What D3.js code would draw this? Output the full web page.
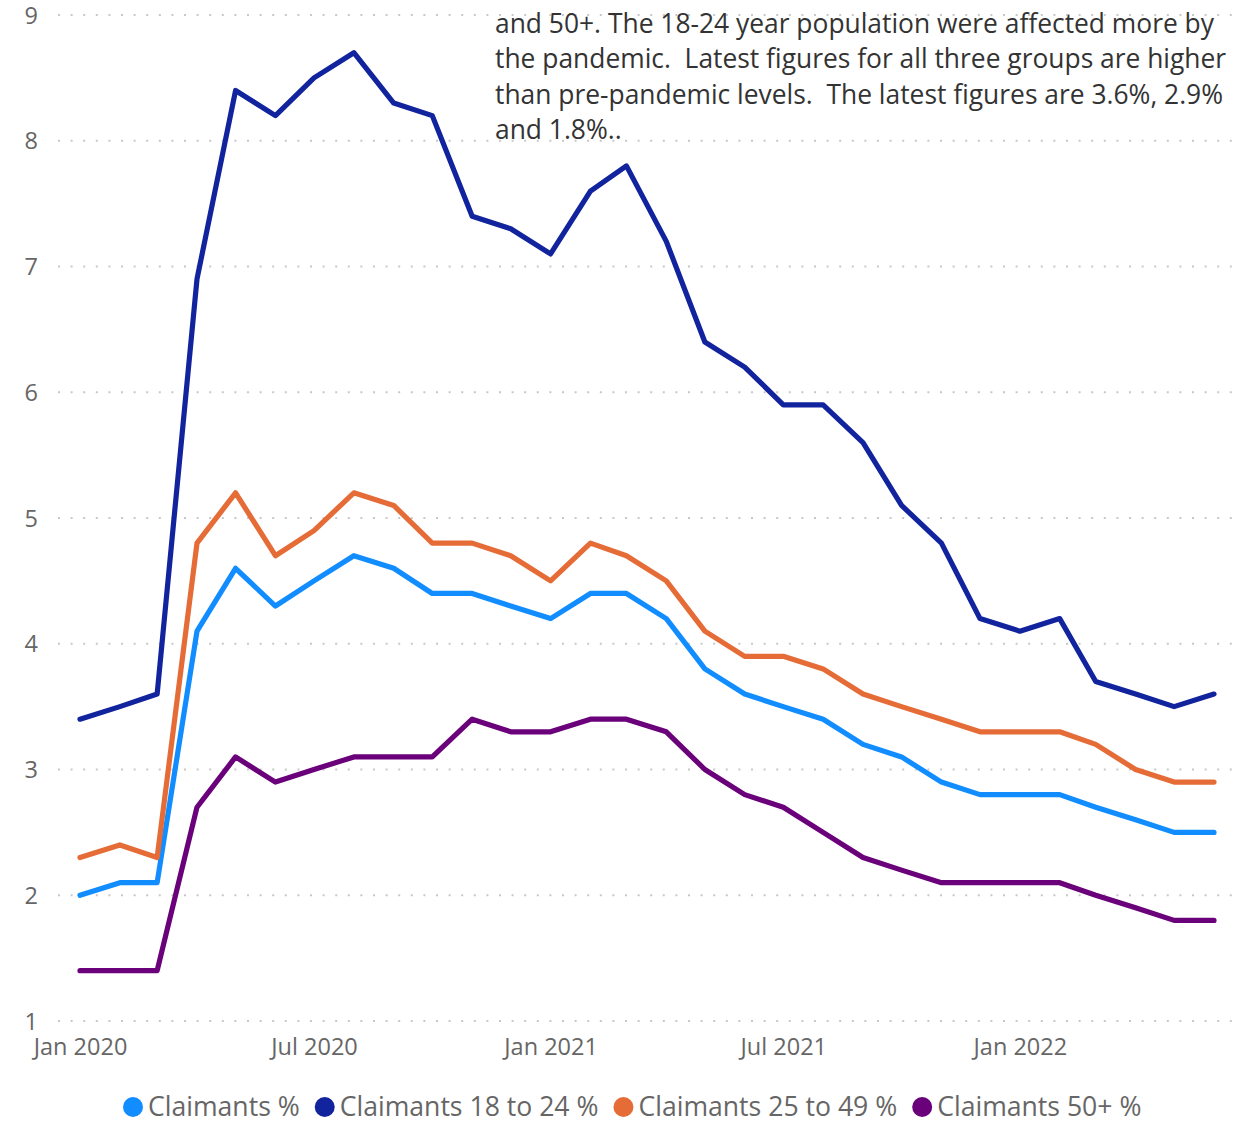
<!DOCTYPE html>
<html>
<head>
<meta charset="utf-8">
<script src="https://cdn.jsdelivr.net/npm/d3@7"></script>
<style>
  html, body { margin: 0; padding: 0; background: #fff; }
  svg { display: block; font-family: "Segoe UI", "Open Sans", "Noto Sans", sans-serif; }
</style>
</head>
<body>
<svg id="chart" width="1239" height="1123"></svg>
<script>
// Monthly claimant rates, Jan 2020 – Jun 2022
const months = d3.timeMonths(new Date(2020, 0, 1), new Date(2022, 6, 1));

const claimantsAll = [2.0, 2.1, 2.1, 4.1, 4.6, 4.3, 4.5, 4.7, 4.6, 4.4, 4.4, 4.3, 4.2, 4.4, 4.4,
                      4.2, 3.8, 3.6, 3.5, 3.4, 3.2, 3.1, 2.9, 2.8, 2.8, 2.8, 2.7, 2.6, 2.5, 2.5];
const claimants18to24 = [3.4, 3.5, 3.6, 6.9, 8.4, 8.2, 8.5, 8.7, 8.3, 8.2, 7.4, 7.3, 7.1, 7.6, 7.8,
                         7.2, 6.4, 6.2, 5.9, 5.9, 5.6, 5.1, 4.8, 4.2, 4.1, 4.2, 3.7, 3.6, 3.5, 3.6];
const claimants25to49 = [2.3, 2.4, 2.3, 4.8, 5.2, 4.7, 4.9, 5.2, 5.1, 4.8, 4.8, 4.7, 4.5, 4.8, 4.7,
                         4.5, 4.1, 3.9, 3.9, 3.8, 3.6, 3.5, 3.4, 3.3, 3.3, 3.3, 3.2, 3.0, 2.9, 2.9];
const claimants50plus = [1.4, 1.4, 1.4, 2.7, 3.1, 2.9, 3.0, 3.1, 3.1, 3.1, 3.4, 3.3, 3.3, 3.4, 3.4,
                         3.3, 3.0, 2.8, 2.7, 2.5, 2.3, 2.2, 2.1, 2.1, 2.1, 2.1, 2.0, 1.9, 1.8, 1.8];

const seriesNames = ["Claimants %", "Claimants 18 to 24 %", "Claimants 25 to 49 %", "Claimants 50+ %"];
const seriesColors = ["#118DFF", "#12239E", "#E66C37", "#6B007B"];
const seriesValues = [claimantsAll, claimants18to24, claimants25to49, claimants50plus];

const yTicks = [1, 2, 3, 4, 5, 6, 7, 8, 9];
const xTicks = [new Date(2020, 0, 1), new Date(2020, 6, 1), new Date(2021, 0, 1),
                new Date(2021, 6, 1), new Date(2022, 0, 1)];

const noteLines = [
  "and 50+. The 18-24 year population were affected more by",
  "the pandemic.  Latest figures for all three groups are higher",
  "than pre-pandemic levels.  The latest figures are 3.6%, 2.9%",
  "and 1.8%.."
];

const svg = d3.select("#chart");

const x = d3.scaleTime()
  .domain([months[0], months[months.length - 1]])
  .range([80, 1214]);
const y = d3.scaleLinear().domain([1, 9]).range([1021, 15]);

// dotted horizontal gridlines
svg.append("g").selectAll("line").data(yTicks).join("line")
  .attr("x1", 58).attr("x2", 1233)
  .attr("y1", d => y(d)).attr("y2", d => y(d))
  .attr("stroke", "#c8c8c8").attr("stroke-width", 2)
  .attr("stroke-dasharray", "2 10.6");

// y axis labels
const yAxis = svg.append("g").attr("transform", "translate(38,0)")
  .call(d3.axisLeft(y).tickValues(yTicks).tickSize(0).tickPadding(0).tickFormat(d3.format("d")))
  .attr("font-family", null).attr("font-size", null);
yAxis.select(".domain").remove();
yAxis.selectAll("text")
  .attr("fill", "#666").attr("font-size", 23.5).attr("dy", "0.35em");

// x axis labels
const xAxis = svg.append("g").attr("transform", "translate(0,1037)")
  .call(d3.axisBottom(x).tickValues(xTicks).tickSize(0).tickPadding(0).tickFormat(d3.timeFormat("%b %Y")))
  .attr("font-family", null).attr("font-size", null);
xAxis.select(".domain").remove();
xAxis.selectAll("text")
  .attr("fill", "#666").attr("font-size", 23.5).attr("dy", "0.78em");

// annotation text
svg.append("g").selectAll("text").data(noteLines).join("text")
  .attr("x", 495)
  .attr("y", (d, i) => 33 + i * 35.3)
  .attr("fill", "#333")
  .attr("font-size", 26.4)
  .attr("xml:space", "preserve")
  .text(d => d);

// series lines
const line = d3.line()
  .x((d, i) => x(months[i]))
  .y(d => y(d));

svg.append("g").selectAll("path").data(seriesValues).join("path")
  .attr("d", d => line(d))
  .attr("fill", "none")
  .attr("stroke", (d, i) => seriesColors[i])
  .attr("stroke-width", 5.2)
  .attr("stroke-linejoin", "round")
  .attr("stroke-linecap", "round");

// legend
const legend = svg.append("g").attr("transform", "translate(0,1107)");
let lx = 123;
seriesNames.forEach((name, i) => {
  const g = legend.append("g").attr("transform", `translate(${lx},0)`);
  g.append("circle").attr("cx", 10).attr("cy", 0).attr("r", 10).attr("fill", seriesColors[i]);
  const t = g.append("text").attr("x", 25).attr("y", 0).attr("dy", "0.35em")
    .attr("fill", "#666").attr("font-size", 26.6).text(name);
  lx += 25 + t.node().getComputedTextLength() + 15;
});
</script>
</body>
</html>
